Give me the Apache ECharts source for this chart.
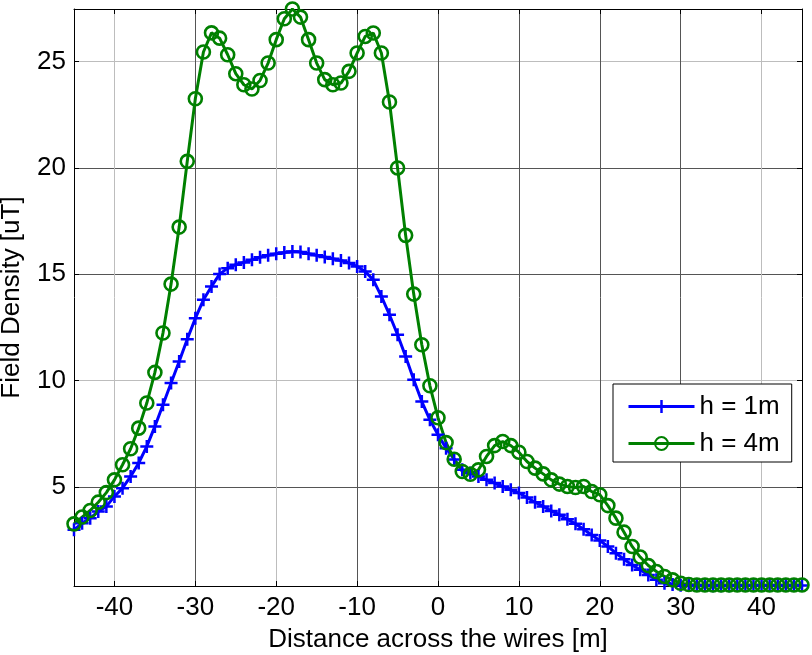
<!DOCTYPE html>
<html>
<head>
<meta charset="utf-8">
<script src="https://cdn.jsdelivr.net/npm/echarts@6/dist/echarts.min.js"></script>
<style>
  html, body { margin: 0; padding: 0; background: #fff; }
  #fieldChart { width: 812px; height: 655px; }
</style>
</head>
<body>
<div id="fieldChart"></div>
<script>
// distance across the wires, 1 m steps
var distance = [];
for (var d = -45; d <= 45; d++) { distance.push(d); }

var h1Values = [
  2.99, 3.30, 3.54, 3.85, 4.09, 4.56, 4.95, 5.50, 6.13, 6.91,
  7.85, 8.87, 9.89, 10.90, 11.95, 12.93, 13.80, 14.43, 15.01, 15.29,
  15.45, 15.56, 15.68, 15.80, 15.90, 15.97, 16.03, 16.07, 16.05, 15.97,
  15.90, 15.81, 15.73, 15.65, 15.53, 15.37, 15.13, 14.74, 13.96, 13.10,
  12.16, 11.14, 10.04, 9.02, 8.16, 7.46, 6.83, 6.30, 5.81, 5.66,
  5.50, 5.34, 5.19, 5.03, 4.87, 4.72, 4.51, 4.29, 4.09, 3.88,
  3.70, 3.49, 3.27, 3.02, 2.75, 2.49, 2.21, 1.89, 1.61, 1.34,
  1.11, 0.87, 0.64, 0.48, 0.42, 0.39, 0.37, 0.37, 0.37, 0.36,
  0.36, 0.36, 0.37, 0.37, 0.37, 0.37, 0.37, 0.37, 0.37, 0.37,
  0.37
];

var h4Values = [
  3.27, 3.59, 3.90, 4.29, 4.74, 5.34, 6.05, 6.80, 7.77, 8.95,
  10.39, 12.24, 14.54, 17.22, 20.31, 23.25, 25.45, 26.35, 26.10, 25.32,
  24.43, 23.91, 23.71, 24.11, 24.93, 26.03, 27.01, 27.47, 27.09, 26.03,
  24.93, 24.15, 23.91, 23.99, 24.54, 25.40, 26.18, 26.34, 25.40, 23.10,
  20.00, 16.83, 14.07, 11.69, 9.76, 8.26, 7.09, 6.31, 5.73, 5.60,
  5.81, 6.44, 6.95, 7.14, 6.95, 6.64, 6.20, 5.89, 5.62, 5.34,
  5.14, 5.03, 4.98, 5.03, 4.79, 4.64, 4.13, 3.54, 2.88, 2.21,
  1.71, 1.31, 1.03, 0.80, 0.64, 0.48, 0.42, 0.40, 0.40, 0.40,
  0.40, 0.40, 0.40, 0.40, 0.40, 0.40, 0.40, 0.40, 0.40, 0.40,
  0.40
];

var xTicks = [-40, -30, -20, -10, 0, 10, 20, 30, 40];
var yTicks = [5, 10, 15, 20, 25];
var seriesNames = ['h = 1m', 'h = 4m'];

var fontName = 'Liberation Sans, Arial, Helvetica, sans-serif';
var plusMark = 'path://M-1.25,-6.5 H1.25 V-1.25 H6.5 V1.25 H1.25 V6.5 H-1.25 V1.25 H-6.5 V-1.25 H-1.25 Z';

function pairs(xs, ys) {
  var out = [];
  for (var i = 0; i < xs.length; i++) { out.push([xs[i], ys[i]]); }
  return out;
}

var dom = document.getElementById('fieldChart');
var myChart = echarts.init(dom, null, { renderer: 'canvas' });

var option = {
  animation: false,
  backgroundColor: '#fff',
  grid: { left: 74, right: 10, top: 9, bottom: 69, containLabel: false, outerBoundsMode: 'none' },
  legend: {
    orient: 'vertical',
    left: 613,
    top: 384,
    padding: [9, 12, 5, 14],
    itemGap: 10,
    itemWidth: 66,
    itemHeight: 16,
    backgroundColor: '#fff',
    borderColor: '#000',
    borderWidth: 1,
    lineStyle: { width: 3 },
    textStyle: { fontSize: 26, fontFamily: fontName, color: '#000', lineHeight: 27 },
    data: seriesNames
  },
  xAxis: [
    {
      type: 'value',
      min: -45,
      max: 45,
      name: 'Distance across the wires [m]',
      nameLocation: 'middle',
      nameGap: 41,
      nameTextStyle: { fontSize: 26, fontFamily: fontName, color: '#000' },
      axisLine: { onZero: false, lineStyle: { color: '#000', width: 1 } },
      axisTick: { inside: true, length: 5, customValues: xTicks, lineStyle: { color: '#000' } },
      axisLabel: { customValues: xTicks, margin: 9, fontSize: 26, fontFamily: fontName, color: '#000' },
      splitLine: {
        show: true,
        lineStyle: {
          width: 1,
          color: ['#bdbdbd', '#555', '#bdbdbd', '#555', '#555', '#555', '#555', '#555', '#bdbdbd']
        }
      }
    },
    {
      type: 'value',
      position: 'top',
      min: -45,
      max: 45,
      axisLine: { onZero: false, lineStyle: { color: '#000', width: 1 } },
      axisTick: { inside: true, length: 5, customValues: xTicks, lineStyle: { color: '#000' } },
      axisLabel: { show: false },
      splitLine: { show: false }
    }
  ],
  yAxis: [
    {
      type: 'value',
      min: 0.35,
      max: 27.47,
      name: 'Field Density [uT]',
      nameLocation: 'middle',
      nameGap: 49,
      nameTextStyle: { fontSize: 26, fontFamily: fontName, color: '#000' },
      axisLine: { show: true, onZero: false, lineStyle: { color: '#000', width: 1 } },
      axisTick: { show: true, inside: true, length: 5, customValues: yTicks, lineStyle: { color: '#000' } },
      axisLabel: { customValues: yTicks, margin: 8, fontSize: 26, fontFamily: fontName, color: '#000' },
      splitLine: {
        show: true,
        lineStyle: { width: 1, color: ['#555', '#bdbdbd', '#555', '#555', '#bdbdbd'] }
      }
    },
    {
      type: 'value',
      position: 'right',
      min: 0.35,
      max: 27.47,
      axisLine: { show: true, onZero: false, lineStyle: { color: '#000', width: 1 } },
      axisTick: { show: true, inside: true, length: 5, customValues: yTicks, lineStyle: { color: '#000' } },
      axisLabel: { show: false },
      splitLine: { show: false }
    }
  ],
  series: [
    {
      name: seriesNames[0],
      type: 'line',
      data: pairs(distance, h1Values),
      symbol: plusMark,
      symbolSize: 13,
      showAllSymbol: true,
      lineStyle: { color: '#0000ff', width: 3 },
      itemStyle: { color: '#0000ff', borderWidth: 0 }
    },
    {
      name: seriesNames[1],
      type: 'line',
      data: pairs(distance, h4Values),
      symbol: 'circle',
      symbolSize: 13,
      showAllSymbol: true,
      lineStyle: { color: '#008000', width: 3 },
      itemStyle: { color: 'rgba(0,0,0,0)', borderColor: '#008000', borderWidth: 2.6 }
    }
  ]
};

if (option && typeof option === 'object') {
  myChart.setOption(option);
}

window.addEventListener('resize', myChart.resize);
</script>
</body>
</html>
